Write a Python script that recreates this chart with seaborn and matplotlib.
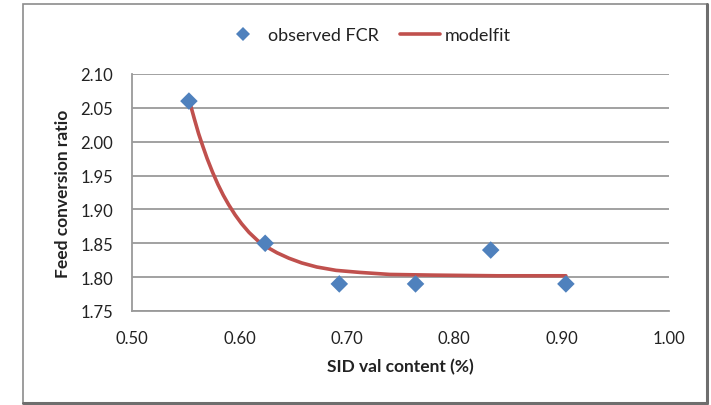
import matplotlib
matplotlib.use("Agg")
import matplotlib.pyplot as plt
import seaborn as sns
import pandas as pd
from matplotlib.lines import Line2D
from matplotlib.patches import Rectangle

# observed data
sid_val = [0.553, 0.624, 0.693, 0.764, 0.834, 0.904]
fcr_obs = [2.06, 1.85, 1.79, 1.79, 1.84, 1.79]

# model fit curve
fit_x = [0.554, 0.558, 0.562, 0.566, 0.570, 0.575, 0.580, 0.585, 0.590,
         0.596, 0.602, 0.609, 0.617, 0.625, 0.635, 0.646, 0.658, 0.672,
         0.690, 0.712, 0.740, 0.780, 0.840, 0.904]
fit_y = [2.057, 2.034, 2.012, 1.993, 1.975, 1.955, 1.937, 1.921, 1.907,
         1.892, 1.879, 1.866, 1.854, 1.845, 1.836, 1.828, 1.821, 1.815,
         1.810, 1.807, 1.804, 1.803, 1.802, 1.802]

x_ticks = [0.50, 0.60, 0.70, 0.80, 0.90, 1.00]
y_ticks = [1.75, 1.80, 1.85, 1.90, 1.95, 2.00, 2.05, 2.10]

sns.set_style("white")
plt.rcParams['font.family'] = ['Lato', 'DejaVu Sans']

BLUE = "#4F81BD"
RED = "#C0504D"
GRID = "#9a9a9a"
TXT = "#222222"

fig = plt.figure(figsize=(7.11, 4.06), dpi=100)
ax = fig.add_axes([132/711, 1-312/406, (669-132)/711, (312-75)/406])

obs = pd.DataFrame({"x": sid_val, "y": fcr_obs})
fit = pd.DataFrame({"x": fit_x, "y": fit_y})

sns.lineplot(data=fit, x="x", y="y", ax=ax, color=RED, linewidth=2.6,
             zorder=3, sort=False)
sns.scatterplot(data=obs, x="x", y="y", ax=ax, color=BLUE, marker="D",
                s=80, edgecolor="none", zorder=4)

ax.set_xlim(0.50, 1.00)
ax.set_ylim(1.75, 2.10)
ax.set_xticks(x_ticks)
ax.set_yticks(y_ticks)
ax.set_xticklabels([f"{v:.2f}" for v in x_ticks])
ax.set_yticklabels([f"{v:.2f}" for v in y_ticks])

ax.yaxis.grid(True, color=GRID, linewidth=1.3)
ax.xaxis.grid(False)
ax.set_axisbelow(True)
for s in ["top", "right"]:
    ax.spines[s].set_visible(False)
for s in ["left", "bottom"]:
    ax.spines[s].set_color(GRID)
    ax.spines[s].set_linewidth(1.3)

ax.tick_params(axis="both", which="major", direction="out", length=4.5,
               width=1.0, color=GRID, labelsize=12, labelcolor=TXT)
ax.tick_params(axis="y", pad=9)
ax.tick_params(axis="x", pad=9)

ax.set_xlabel("SID val content (%)", fontsize=12.5, fontweight="bold",
              color=TXT, labelpad=9)
ax.set_ylabel("Feed conversion ratio", fontsize=12.5, fontweight="bold",
              color=TXT, labelpad=7)

handles = [
    Line2D([], [], color=BLUE, marker="D", linestyle="none", markersize=6.8,
           markeredgewidth=0),
    Line2D([], [], color=RED, linewidth=2.6),
]
ax.legend(handles, ["observed FCR", "modelfit"], ncol=2, frameon=False,
          loc="center", bbox_to_anchor=(367/711, 1-36/406),
          bbox_transform=fig.transFigure, fontsize=13, handlelength=2.2,
          columnspacing=1.2, handletextpad=0.25, labelcolor=TXT)

# outer chart border
fig.add_artist(Rectangle((23/711, 2/406), (707-23)/711, (401-2)/406,
                         transform=fig.transFigure, fill=False,
                         edgecolor="#8c8c8c", linewidth=1.2))
fig.add_artist(Line2D([707/711, 707/711], [2/406, 401/406],
                      transform=fig.transFigure, color="#6e6e6e", linewidth=2.2))
fig.add_artist(Line2D([23/711, 707/711], [2/406, 2/406],
                      transform=fig.transFigure, color="#6e6e6e", linewidth=2.2))

fig.savefig("out.png", dpi=100)
